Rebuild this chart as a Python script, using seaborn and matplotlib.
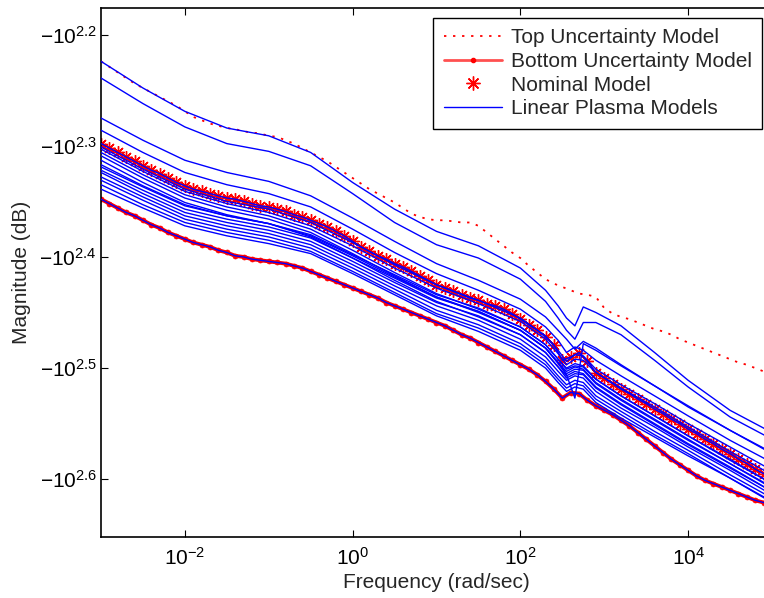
import numpy as np
import pandas as pd
import matplotlib
matplotlib.use("Agg")
import matplotlib.pyplot as plt
from matplotlib.lines import Line2D
from matplotlib.ticker import NullLocator
import seaborn as sns

# ---------------------------------------------------------------
# Frequency grids (log10 of rad/sec)
# ---------------------------------------------------------------
log_freq_fine = np.round(np.arange(-3.0, 5.0001, 0.1), 2)
log_freq_coarse = [-3, -2.5, -2, -1.5, -1, -0.5, 0, 0.5, 1, 1.5, 2, 2.3,
                   2.45, 2.55, 2.65, 2.75, 2.9, 3.2, 3.6, 4, 4.5, 5]

# Magnitudes are stored as log10(|dB|); the plotted value is -10**x dB.
top_uncertainty = [
    2.224, 2.229, 2.234, 2.239, 2.244, 2.248, 2.252, 2.256, 2.260, 2.264,
    2.269, 2.274, 2.277, 2.280, 2.282, 2.284, 2.285, 2.287, 2.288, 2.289,
    2.291, 2.292, 2.295, 2.298, 2.302, 2.306, 2.310, 2.314, 2.319, 2.324,
    2.329, 2.334, 2.339, 2.343, 2.347, 2.351, 2.356, 2.361, 2.364, 2.366,
    2.367, 2.367, 2.368, 2.369, 2.369, 2.372, 2.378, 2.384, 2.390, 2.396,
    2.401, 2.408, 2.414, 2.420, 2.424, 2.427, 2.430, 2.433, 2.434, 2.436,
    2.446, 2.451, 2.454, 2.456, 2.459, 2.462, 2.465, 2.467, 2.470, 2.474,
    2.477, 2.480, 2.483, 2.486, 2.489, 2.492, 2.495, 2.497, 2.500, 2.503,
    2.505]

bottom_uncertainty = [
    2.348, 2.352, 2.356, 2.360, 2.363, 2.367, 2.371, 2.374, 2.378, 2.381,
    2.384, 2.387, 2.389, 2.391, 2.394, 2.396, 2.399, 2.400, 2.402, 2.403,
    2.404, 2.405, 2.406, 2.408, 2.410, 2.413, 2.416, 2.419, 2.422, 2.425,
    2.428, 2.431, 2.434, 2.437, 2.441, 2.444, 2.447, 2.450, 2.453, 2.456,
    2.459, 2.462, 2.466, 2.470, 2.473, 2.477, 2.481, 2.485, 2.489, 2.493,
    2.497, 2.501, 2.506, 2.512, 2.519, 2.527, 2.522, 2.523, 2.529, 2.534,
    2.538, 2.542, 2.547, 2.552, 2.558, 2.564, 2.570, 2.576, 2.582, 2.587,
    2.592, 2.597, 2.601, 2.604, 2.607, 2.610, 2.613, 2.616, 2.619, 2.621,
    2.624]

nominal = [
    2.298, 2.302, 2.306, 2.310, 2.314, 2.318, 2.322, 2.325, 2.329, 2.333,
    2.336, 2.339, 2.341, 2.343, 2.345, 2.347, 2.348, 2.350, 2.352, 2.354,
    2.355, 2.357, 2.359, 2.362, 2.364, 2.367, 2.370, 2.373, 2.377, 2.381,
    2.386, 2.391, 2.395, 2.399, 2.402, 2.406, 2.409, 2.413, 2.417, 2.421,
    2.425, 2.428, 2.431, 2.434, 2.437, 2.439, 2.442, 2.444, 2.447, 2.451,
    2.456, 2.461, 2.466, 2.472, 2.479, 2.493, 2.490, 2.486, 2.494, 2.504,
    2.509, 2.514, 2.519, 2.523, 2.528, 2.532, 2.537, 2.541, 2.546, 2.550,
    2.555, 2.559, 2.564, 2.568, 2.573, 2.577, 2.582, 2.586, 2.591, 2.595,
    2.599]

# Linear plasma models sampled on the coarse grid
plasma_t1 = [2.224, 2.248, 2.269, 2.284, 2.291, 2.306, 2.333, 2.357, 2.377, 2.390, 2.410,
             2.430, 2.444, 2.455, 2.462, 2.445, 2.450, 2.462, 2.486, 2.511, 2.538, 2.558]
plasma_t2 = [2.239, 2.262, 2.283, 2.298, 2.305, 2.318, 2.343, 2.369, 2.389, 2.401, 2.420,
             2.440, 2.455, 2.466, 2.474, 2.459, 2.459, 2.470, 2.493, 2.517, 2.544, 2.564]
plasma_t3 = [2.275, 2.295, 2.313, 2.324, 2.332, 2.345, 2.365, 2.386, 2.406, 2.421, 2.438,
             2.454, 2.466, 2.474, 2.483, 2.476, 2.482, 2.497, 2.516, 2.534, 2.556, 2.576]
plasma_t4 = [2.286, 2.306, 2.324, 2.335, 2.343, 2.355, 2.375, 2.396, 2.415, 2.430, 2.447,
             2.463, 2.475, 2.486, 2.481, 2.484, 2.493, 2.507, 2.525, 2.543, 2.565, 2.585]
plasma_b1 = [2.301, 2.321, 2.339, 2.350, 2.357, 2.369, 2.387, 2.407, 2.425, 2.439, 2.455,
             2.471, 2.484, 2.494, 2.488, 2.489, 2.501, 2.515, 2.532, 2.550, 2.571, 2.592]
plasma_b2 = [2.303, 2.323, 2.341, 2.352, 2.360, 2.372, 2.390, 2.410, 2.428, 2.442, 2.458,
             2.474, 2.487, 2.497, 2.492, 2.493, 2.504, 2.518, 2.535, 2.553, 2.575, 2.596]
plasma_b3 = [2.306, 2.326, 2.344, 2.355, 2.363, 2.375, 2.394, 2.414, 2.433, 2.447, 2.463,
             2.479, 2.492, 2.501, 2.498, 2.499, 2.510, 2.525, 2.543, 2.561, 2.583, 2.604]
plasma_b4 = [2.309, 2.329, 2.347, 2.358, 2.366, 2.378, 2.397, 2.417, 2.436, 2.450, 2.466,
             2.482, 2.495, 2.505, 2.501, 2.502, 2.514, 2.529, 2.547, 2.565, 2.586, 2.607]
plasma_b5 = [2.313, 2.333, 2.351, 2.362, 2.370, 2.382, 2.401, 2.421, 2.440, 2.454, 2.470,
             2.486, 2.499, 2.509, 2.505, 2.506, 2.518, 2.533, 2.551, 2.569, 2.590, 2.611]
plasma_d = [2.317, 2.336, 2.353, 2.363, 2.370, 2.381, 2.399, 2.418, 2.436, 2.449, 2.466,
            2.482, 2.496, 2.506, 2.527, 2.478, 2.484, 2.498, 2.516, 2.535, 2.556, 2.577]
plasma_l1 = [2.319, 2.337, 2.354, 2.363, 2.370, 2.380, 2.398, 2.416, 2.434, 2.446, 2.463,
             2.479, 2.492, 2.500, 2.496, 2.498, 2.510, 2.525, 2.543, 2.561, 2.582, 2.604]
plasma_l2 = [2.322, 2.340, 2.357, 2.366, 2.373, 2.383, 2.401, 2.419, 2.437, 2.449, 2.466,
             2.482, 2.495, 2.503, 2.499, 2.501, 2.513, 2.528, 2.546, 2.564, 2.586, 2.608]
plasma_l3 = [2.324, 2.343, 2.360, 2.369, 2.376, 2.386, 2.404, 2.423, 2.441, 2.453, 2.470,
             2.486, 2.499, 2.507, 2.503, 2.505, 2.517, 2.532, 2.550, 2.568, 2.589, 2.611]
plasma_l4 = [2.328, 2.346, 2.363, 2.372, 2.379, 2.389, 2.407, 2.426, 2.444, 2.457, 2.474,
             2.490, 2.503, 2.511, 2.507, 2.509, 2.521, 2.536, 2.553, 2.571, 2.592, 2.614]
plasma_l5 = [2.331, 2.349, 2.366, 2.375, 2.382, 2.392, 2.410, 2.429, 2.448, 2.461, 2.478,
             2.494, 2.507, 2.515, 2.511, 2.513, 2.525, 2.539, 2.557, 2.574, 2.596, 2.617]
plasma_l6 = [2.335, 2.353, 2.369, 2.378, 2.385, 2.395, 2.413, 2.432, 2.451, 2.464, 2.481,
             2.497, 2.510, 2.518, 2.514, 2.516, 2.528, 2.542, 2.560, 2.577, 2.599, 2.620]
plasma_l7 = [2.339, 2.356, 2.372, 2.381, 2.388, 2.397, 2.415, 2.434, 2.453, 2.467, 2.484,
             2.500, 2.513, 2.521, 2.517, 2.519, 2.531, 2.545, 2.562, 2.579, 2.599, 2.621]

y_tick_exponents = [2.2, 2.3, 2.4, 2.5, 2.6]
x_tick_values = [1e-2, 1e0, 1e2, 1e4]

# ---------------------------------------------------------------
# Tidy tables
# ---------------------------------------------------------------
def to_db(log_mag):
    return -np.power(10.0, np.asarray(log_mag, dtype=float))

coarse_models = [plasma_t1, plasma_t2, plasma_t3, plasma_t4, plasma_b1, plasma_b2,
                 plasma_b3, plasma_b4, plasma_b5, plasma_d, plasma_l1, plasma_l2,
                 plasma_l3, plasma_l4, plasma_l5, plasma_l6, plasma_l7]
frames = []
for k, vals in enumerate(coarse_models):
    frames.append(pd.DataFrame({"freq": np.power(10.0, log_freq_coarse),
                                "mag": to_db(vals), "model": f"m{k}"}))
for name, vals in [("nominal", nominal), ("bottom", bottom_uncertainty)]:
    frames.append(pd.DataFrame({"freq": np.power(10.0, log_freq_fine),
                                "mag": to_db(vals), "model": name}))
plasma = pd.concat(frames, ignore_index=True)

fine = pd.DataFrame({"freq": np.power(10.0, log_freq_fine),
                     "top": to_db(top_uncertainty),
                     "bottom": to_db(bottom_uncertainty),
                     "nominal": to_db(nominal)})

# ---------------------------------------------------------------
# Style
# ---------------------------------------------------------------
sns.set_style("ticks")
plt.rcParams["font.family"] = ["Liberation Sans", "DejaVu Sans"]
plt.rcParams["mathtext.fontset"] = "custom"
plt.rcParams["mathtext.rm"] = "Liberation Sans"
plt.rcParams["mathtext.it"] = "Liberation Sans:italic"
plt.rcParams["mathtext.bf"] = "Liberation Sans:bold"
FS = 15

RED = "#ff0000"
BLUE = "#0000ff"

fig = plt.figure(figsize=(7.64, 5.98), dpi=100)
fig.patch.set_facecolor("white")
ax = fig.add_axes([101 / 764, 1 - 537 / 598, 671 / 764, 529 / 598])
ax.set_facecolor("white")

# Uncertainty envelope and nominal model (drawn under the plasma family)
sns.lineplot(data=fine, x="freq", y="top", ax=ax, color=RED, lw=1.3,
             linestyle=(0, (1.3, 3.7)), zorder=2, legend=False)
sns.lineplot(data=fine, x="freq", y="bottom", ax=ax, color=RED, lw=2.8,
             marker="o", ms=3.6, mec=RED, mew=0.5, zorder=2, legend=False)
sns.lineplot(data=fine, x="freq", y="nominal", ax=ax, color=RED, lw=1.0,
             marker=(8, 2, 0), ms=9, mec=RED, mew=1.0, zorder=2, legend=False)

# Linear plasma models
sns.lineplot(data=plasma, x="freq", y="mag", units="model", estimator=None,
             sort=False, color=BLUE, lw=1.0, zorder=3, ax=ax, legend=False)

# ---------------------------------------------------------------
# Axes
# ---------------------------------------------------------------
def fwd(v):
    v = np.asarray(v, dtype=float)
    return -np.log10(np.clip(-v, 1e-300, None))

def inv(u):
    return -np.power(10.0, -np.asarray(u, dtype=float))

ax.set_xscale("log")
ax.set_yscale("function", functions=(fwd, inv))
ax.set_xlim(1e-3, 1e5)
ax.set_ylim(-10 ** 2.652, -10 ** 2.176)

ax.set_xticks(x_tick_values)
ax.set_xticklabels([r"$10^{%d}$" % int(round(np.log10(v))) for v in x_tick_values])
ax.xaxis.set_minor_locator(NullLocator())
ax.set_yticks([-10 ** e for e in y_tick_exponents])
ax.set_yticklabels([r"$-10^{%.1f}$" % e for e in y_tick_exponents])
ax.yaxis.set_minor_locator(NullLocator())

ax.tick_params(axis="both", which="major", direction="in", length=5, width=0.8,
               top=True, right=True, labelsize=FS, colors="black")
ax.tick_params(axis="x", pad=7)
ax.tick_params(axis="y", pad=3)
for sp in ax.spines.values():
    sp.set_visible(True)
    sp.set_linewidth(1.2)
    sp.set_color("black")

ax.set_xlabel("Frequency (rad/sec)", fontsize=FS, labelpad=3)
ax.set_ylabel("Magnitude (dB)", fontsize=FS, labelpad=6)

handles = [
    Line2D([], [], color=RED, lw=1.3, linestyle=(0, (1.3, 3.7))),
    Line2D([], [], color="#ff5050", lw=2.0, marker="o", ms=3, mfc=RED, mec=RED),
    Line2D([], [], color=RED, linestyle="none", marker=(8, 2, 0), ms=10, mew=1.0),
    Line2D([], [], color=BLUE, lw=1.0),
]
labels = ["Top Uncertainty Model", "Bottom Uncertainty Model", "Nominal Model",
          "Linear Plasma Models"]
leg = ax.legend(handles, labels, loc="upper right",
                bbox_to_anchor=(762 / 764, 1 - 18 / 598),
                bbox_transform=fig.transFigure, borderaxespad=0,
                fontsize=FS, frameon=True, fancybox=False, framealpha=1,
                edgecolor="black", handlelength=2.8, handletextpad=0.42,
                labelspacing=0.22, borderpad=0.5)
leg.get_frame().set_linewidth(1.0)

fig.savefig("out.png", dpi=100)
